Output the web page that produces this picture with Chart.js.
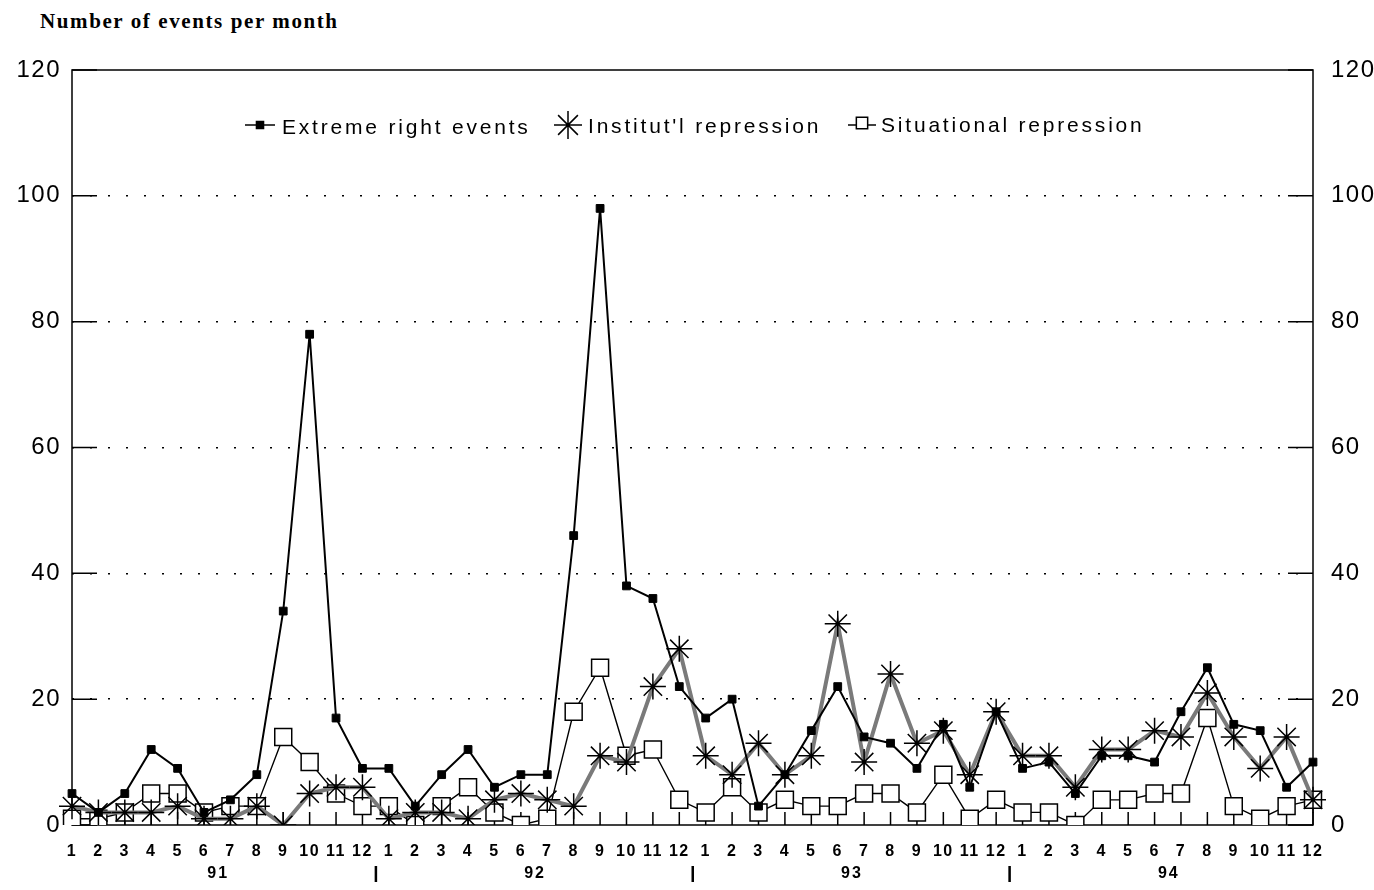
<!DOCTYPE html>
<html>
<head>
<meta charset="utf-8">
<script src="https://cdn.jsdelivr.net/npm/chart.js@4.4.1/dist/chart.umd.min.js"></script>
<style>
    body { margin: 0; background: #fff; }
    #wrap { position: relative; width: 1374px; height: 890px; }
    #title { position: absolute; left: 40px; top: 9px; font: bold 21px "Liberation Serif", serif; letter-spacing: 1.6px; color: #000; }
    canvas { position: absolute; left: 0; top: 0; }
</style>
</head>
<body>
<div id="wrap">
    <div id="title">Number of events per month</div>
    <canvas id="eventsChart" width="1374" height="890"></canvas>
</div>
<script>
// months of each year, and the years
const monthLabels = ['1', '2', '3', '4', '5', '6', '7', '8', '9', '10', '11', '12'];
const years = ['91', '92', '93', '94'];

// values, 1991-1 .. 1994-12
const extremeRight = [5, 2, 5, 12, 9, 2, 4, 8, 34, 78, 17, 9,
                      9, 3, 8, 12, 6, 8, 8, 46, 98, 38, 36, 22,
                      17, 20, 3, 8, 15, 22, 14, 13, 9, 16, 6, 18,
                      9, 10, 5, 11, 11, 10, 18, 25, 16, 15, 6, 10];
const institutional = [3, 2, 2, 2, 3, 1, 1, 3, 0, 5, 6, 6,
                       1, 2, 2, 1, 4, 5, 4, 3, 11, 10, 22, 28,
                       11, 8, 13, 8, 11, 32, 10, 24, 13, 15, 8, 18,
                       11, 11, 6, 12, 12, 15, 14, 21, 14, 9, 14, 4];
const situational = [1, 1, 2, 5, 5, 2, 3, 3, 14, 10, 5, 3,
                     3, 0, 3, 6, 2, 0, 1, 18, 25, 11, 12, 4,
                     2, 6, 2, 4, 3, 3, 5, 5, 2, 8, 1, 4,
                     2, 2, 0, 4, 4, 5, 5, 17, 3, 1, 3, 4];

const yTicks = [0, 20, 40, 60, 80, 100, 120];

const labels = [];
years.forEach(() => monthLabels.forEach(m => labels.push(m)));

const sansFont = '"Liberation Sans", Arial, sans-serif';

// frame, inward ticks, year row and the legend inside the plot
const framePlugin = {
    id: 'framePlugin',
    beforeDraw(chart) {
        chart.ctx.letterSpacing = '1.5px';
    },
    beforeDatasetsDraw(chart) {
        const { ctx, chartArea: a, scales: { x, y } } = chart;
        ctx.save();
        ctx.strokeStyle = '#000';
        ctx.lineWidth = 1.5;
        ctx.strokeRect(a.left, a.top, a.right - a.left, a.bottom - a.top);
        ctx.beginPath();
        labels.forEach((l, i) => {
            const px = x.getPixelForValue(i);
            ctx.moveTo(px, a.bottom);
            ctx.lineTo(px, a.bottom - 13);
        });
        yTicks.forEach(v => {
            const py = y.getPixelForValue(v);
            ctx.moveTo(a.left, py);
            ctx.lineTo(a.left + 25, py);
            ctx.moveTo(a.right, py);
            ctx.lineTo(a.right - 25, py);
        });
        ctx.stroke();

        // year labels and separators
        ctx.fillStyle = '#000';
        ctx.font = 'bold 16px ' + sansFont;
        ctx.letterSpacing = '2px';
        ctx.textAlign = 'center';
        ctx.textBaseline = 'middle';
        years.forEach((yr, k) => {
            const x0 = x.getPixelForValue(k * 12);
            const x1 = x.getPixelForValue(k * 12 + 11);
            ctx.fillText(yr, (x0 + x1) / 2 + 1, a.bottom + 49);
            if (k > 0) {
                const prev = x.getPixelForValue(k * 12 - 1);
                const sx = (prev + x0) / 2;
                ctx.fillRect(sx - 1, a.bottom + 41, 2.5, 16);
            }
        });
        ctx.restore();
    },
    afterDraw(chart) {
        const { ctx, chartArea: a } = chart;
        const ly = a.top + 55;
        ctx.save();
        ctx.font = '21px ' + sansFont;
        ctx.letterSpacing = '2.8px';
        ctx.fillStyle = '#000';
        ctx.strokeStyle = '#000';
        ctx.textAlign = 'left';
        ctx.textBaseline = 'middle';
        ctx.lineWidth = 1.5;

        // Extreme right events
        ctx.beginPath();
        ctx.moveTo(245, ly); ctx.lineTo(275, ly);
        ctx.stroke();
        Chart.helpers.drawPoint(ctx, { pointStyle: 'rect', rotation: 0, radius: 5, borderWidth: 1 }, 260, ly);
        ctx.fillText('Extreme right events', 282, ly + 3);

        // Institut'l repression
        Chart.helpers.drawPoint(ctx, { pointStyle: 'star', rotation: 0, radius: 14, borderWidth: 1.5 }, 568, ly);
        ctx.fillText("Institut'l repression", 588, ly + 2);

        // Situational repression
        ctx.beginPath();
        ctx.moveTo(848, ly); ctx.lineTo(876, ly);
        ctx.stroke();
        ctx.fillStyle = '#fff';
        Chart.helpers.drawPoint(ctx, { pointStyle: 'rect', rotation: 0, radius: 8, borderWidth: 1.5 }, 862, ly - 2);
        ctx.fillStyle = '#000';
        ctx.fillText('Situational repression', 881, ly + 1);
        ctx.restore();
        ctx.letterSpacing = '0px';
    }
};

const ctx = document.getElementById('eventsChart').getContext('2d');

new Chart(ctx, {
    type: 'line',
    data: {
        labels: labels,
        datasets: [{
            label: 'Extreme right events',
            data: extremeRight,
            borderColor: '#000',
            borderWidth: 2,
            pointStyle: 'rect',
            pointRadius: 5.5,
            pointBackgroundColor: '#000',
            pointBorderColor: '#000',
            pointBorderWidth: 1,
            tension: 0
        }, {
            label: "Institut'l repression",
            data: institutional,
            borderColor: '#7a7a7a',
            borderWidth: 4,
            pointStyle: 'star',
            pointRadius: 13,
            pointBorderColor: '#000',
            pointBackgroundColor: 'rgba(0,0,0,0)',
            pointBorderWidth: 1.5,
            tension: 0
        }, {
            label: 'Situational repression',
            data: situational,
            borderColor: '#000',
            borderWidth: 1.4,
            pointStyle: 'rect',
            pointRadius: 12,
            pointBackgroundColor: '#fff',
            pointBorderColor: '#000',
            pointBorderWidth: 1.5,
            tension: 0
        }]
    },
    options: {
        responsive: false,
        animation: false,
        layout: { padding: { top: 70, left: 0, right: 0, bottom: 0 } },
        plugins: {
            legend: { display: false },
            tooltip: { enabled: false }
        },
        scales: {
            x: {
                type: 'category',
                offset: false,
                grid: { display: false },
                border: { display: false },
                ticks: {
                    color: '#000',
                    font: { family: sansFont, size: 16, weight: 'bold' },
                    maxRotation: 0,
                    autoSkip: false,
                    padding: 9
                },
                afterFit(scale) { scale.height = 65; }
            },
            y: {
                position: 'left',
                min: 0,
                max: 120,
                grid: {
                    color: ctx => (ctx.tick.value === 0 || ctx.tick.value === 120) ? 'rgba(0,0,0,0)' : '#000',
                    lineWidth: 1.5,
                    drawTicks: false
                },
                border: { display: false, dash: [2, 16] },
                ticks: {
                    stepSize: 20,
                    color: '#000',
                    font: { family: sansFont, size: 24 },
                    padding: 11
                },
                afterFit(scale) { scale.width = 72; }
            },
            y2: {
                position: 'right',
                min: 0,
                max: 120,
                grid: { display: false },
                border: { display: false },
                ticks: {
                    stepSize: 20,
                    color: '#000',
                    font: { family: sansFont, size: 24 },
                    padding: 10
                },
                afterFit(scale) { scale.width = 61; }
            }
        }
    },
    plugins: [framePlugin]
});
</script>
</body>
</html>
